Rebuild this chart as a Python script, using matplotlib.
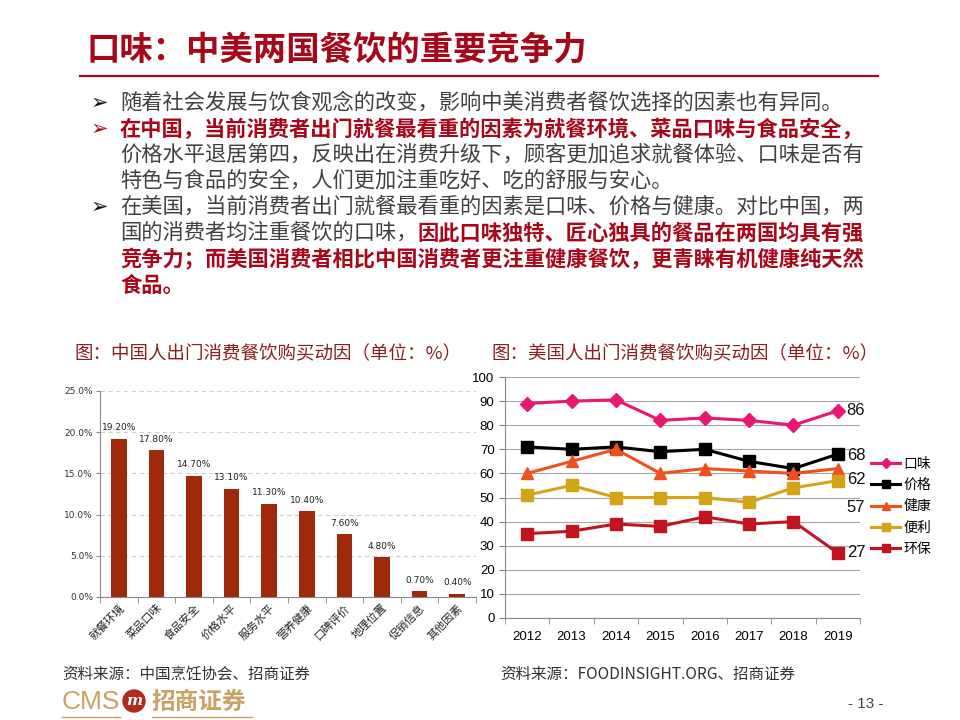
import numpy as np
import matplotlib
matplotlib.use("Agg")
import matplotlib.pyplot as plt
from matplotlib.patches import Ellipse
from matplotlib.lines import Line2D

plt.rcParams['font.family'] = ['Noto Sans CJK SC', 'DejaVu Sans']

# left chart data
cn_factors = ["就餐环境", "菜品口味", "食品安全", "价格水平", "服务水平",
              "营养健康", "口碑评价", "地理位置", "促销信息", "其他因素"]
cn_share = [19.2, 17.8, 14.7, 13.1, 11.3, 10.4, 7.6, 4.8, 0.7, 0.4]

# right chart data
years = ["2012", "2013", "2014", "2015", "2016", "2017", "2018", "2019"]
taste = [89, 90, 90.5, 82, 83, 82, 80, 86]
price = [71, 70, 71, 69, 70, 65, 62, 68]
health = [60, 65, 70, 60, 62, 61, 60, 62]
convenience = [51, 55, 50, 50, 50, 48, 54, 57]
eco = [35, 36, 39, 38, 42, 39, 40, 27]
us_names = ["口味", "价格", "健康", "便利", "环保"]

W, H = 960, 720
RED = "#A8071A"
GRAY = "#404040"


def fx(x):
    return x / W


def fy(y):
    return 1 - y / H


fig = plt.figure(figsize=[9.6, 7.2], dpi=100, facecolor="white")

# title and rule
fig.text(fx(86), fy(50), "口味：中美两国餐饮的重要竞争力", color=RED, fontsize=24,
         fontweight="bold", va="center", ha="left")
fig.add_artist(Line2D([fx(80), fx(878)], [fy(76), fy(76)], color=RED, lw=1.6))

# bullet text
fs = 15.3
pitch = fs * 100 / 72
x0 = 120
lines = [
    (103, True, [("随着社会发展与饮食观念的改变，影响中美消费者餐饮选择的因素也有异同。", False)]),
    (129, True, [("在中国，当前消费者出门就餐最看重的因素为就餐环境、菜品口味与食品安全，", True)]),
    (155, False, [("价格水平退居第四，反映出在消费升级下，顾客更加追求就餐体验、口味是否有", False)]),
    (181, False, [("特色与食品的安全，人们更加注重吃好、吃的舒服与安心。", False)]),
    (207, True, [("在美国，当前消费者出门就餐最看重的因素是口味、价格与健康。对比中国，两", False)]),
    (233, False, [("国的消费者均注重餐饮的口味，", False), ("因此口味独特、匠心独具的餐品在两国均具有强", True)]),
    (259, False, [("竞争力；而美国消费者相比中国消费者更注重健康餐饮，更青睐有机健康纯天然", True)]),
    (285, False, [("食品。", True)]),
]
for y, bullet, segs in lines:
    if bullet:
        bcol = RED if segs[0][1] else "#111111"
        fig.text(fx(91), fy(y), "➢", color=bcol, fontsize=15, va="center", ha="left",
                 family=["DejaVu Sans"])
    xx = x0
    for s, hl in segs:
        fig.text(fx(xx), fy(y), s, color=RED if hl else GRAY, fontsize=fs,
                 fontweight="bold" if hl else "normal", va="center", ha="left")
        xx += len(s) * pitch

# chart captions
CAP = "#8B1E1E"
fig.text(fx(74), fy(354), "图：中国人出门消费餐饮购买动因（单位：%）", color=CAP, fontsize=13.3,
         va="center", ha="left")
fig.text(fx(491), fy(354), "图：美国人出门消费餐饮购买动因（单位：%）", color=CAP, fontsize=13.3,
         va="center", ha="left")

# left bar chart
ax1 = fig.add_axes([fx(100), fy(597), fx(476) - fx(100), fy(391) - fy(597)])
xs = np.arange(len(cn_factors))
ax1.bar(xs, cn_share, width=0.42, color="#9E2A0B", zorder=3)
for x, v in zip(xs, cn_share):
    ax1.text(x, v + 0.8, f"{v:.2f}%", ha="center", va="bottom", fontsize=6.5,
             color="#222222", family=["DejaVu Sans"])
ax1.set_xlim(-0.5, len(cn_factors) - 0.5)
ax1.set_ylim(0, 25)
ax1.set_yticks(np.arange(0, 26, 5))
ax1.set_yticklabels([f"{v:.1f}%" for v in np.arange(0, 26, 5)], fontsize=6.5,
                    family=["DejaVu Sans"], color="#333333")
ax1.yaxis.grid(True, linestyle=(0, (4, 3)), color="#D0D0D0", lw=0.8, zorder=0)
ax1.set_xticks(xs)
ax1.set_xticklabels(cn_factors, rotation=45, ha="right", rotation_mode="anchor",
                    fontsize=8, color="#222222")
ax1.set_xticks(np.arange(-0.5, len(cn_factors), 1), minor=True)
ax1.tick_params(axis="x", which="major", length=0, pad=4)
ax1.tick_params(axis="x", which="minor", length=4, color="#888888")
ax1.tick_params(axis="y", length=3, color="#888888", pad=2)
for s in ["top", "right"]:
    ax1.spines[s].set_visible(False)
for s in ["left", "bottom"]:
    ax1.spines[s].set_color("#888888")
    ax1.spines[s].set_linewidth(0.8)

# right line chart
ax2 = fig.add_axes([fx(505), fy(618), fx(860) - fx(505), fy(377) - fy(618)])
xp = np.arange(len(years))
series = [
    (taste, "#E8176F", "D", 7),
    (price, "#000000", "s", 8),
    (health, "#F0501E", "^", 8),
    (convenience, "#D4A418", "s", 8),
    (eco, "#C2141E", "s", 8),
]
handles = []
for (vals, col, mk, ms), name in zip(series, us_names):
    h, = ax2.plot(xp, vals, color=col, lw=2.2, marker=mk, markersize=ms, label=name,
                  zorder=3)
    handles.append(h)
ax2.set_xlim(-0.5, len(years) - 0.5)
ax2.set_ylim(0, 100)
ax2.set_yticks(np.arange(0, 101, 10))
ax2.set_xticks(xp)
ax2.set_xticklabels(years)
ax2.set_xticks(np.arange(-0.5, len(years), 1), minor=True)
ax2.tick_params(axis="x", which="major", length=0, pad=9)
ax2.tick_params(axis="x", which="minor", length=4, color="#888888")
ax2.tick_params(axis="y", length=4, color="#888888")
for lab in ax2.get_xticklabels() + ax2.get_yticklabels():
    lab.set_family(["Liberation Sans"])
    lab.set_fontsize(9.5)
ax2.yaxis.grid(True, color="#A6A6A6", lw=0.8, zorder=0)
for s in ["top", "right"]:
    ax2.spines[s].set_visible(False)
for s in ["left", "bottom"]:
    ax2.spines[s].set_color("#888888")
    ax2.spines[s].set_linewidth(0.8)

# end value labels, nudged apart like the original
end_pos = [86, 67.5, 57.5, 46, 27]
for (vals, _, _, _), yp in zip(series, end_pos):
    ax2.text(7.2, yp, f"{vals[-1]:.0f}", fontsize=12, family=["Liberation Sans"],
             va="center", ha="left", color="#111111", clip_on=False, zorder=4)

fig.legend(handles=handles, loc="upper left", bbox_to_anchor=(fx(871), fy(457)),
           frameon=False, fontsize=10, handlelength=2.1, handletextpad=0.25,
           labelspacing=0.52, borderaxespad=0, borderpad=0, markerscale=0.8)

# sources
fig.text(fx(62), fy(674), "资料来源：中国烹饪协会、招商证券", fontsize=11.2, color="#333333",
         va="center", ha="left")
fig.text(fx(500), fy(674), "资料来源：FOODINSIGHT.ORG、招商证券", fontsize=11.2,
         color="#333333", va="center", ha="left")

# footer logo and page number
GOLD = "#C9A163"
fig.text(fx(62), fy(702), "CMS", fontsize=19, color=GOLD, va="center", ha="left",
         family=["Liberation Sans Narrow", "Liberation Sans"])
fig.add_artist(Ellipse((fx(134), fy(701)), 22 / W, 22 / H, color="#B22A1A"))
fig.text(fx(134), fy(701), "m", fontsize=11, color="white", fontweight="bold",
         style="italic", va="center", ha="center", family=["DejaVu Serif"])
fig.text(fx(152), fy(702), "招商证券", fontsize=17, color=GOLD, fontweight="bold",
         va="center", ha="left")
fig.add_artist(Line2D([fx(62), fx(120)], [fy(717), fy(717)], color=GOLD, lw=1))
fig.add_artist(Line2D([fx(152), fx(252)], [fy(717), fy(717)], color=GOLD, lw=1))
fig.text(fx(866), fy(704), "- 13 -", fontsize=11, color="#444444", va="center",
         ha="center", family=["Liberation Sans"])

fig.savefig("out.png", dpi=100, facecolor="white")
